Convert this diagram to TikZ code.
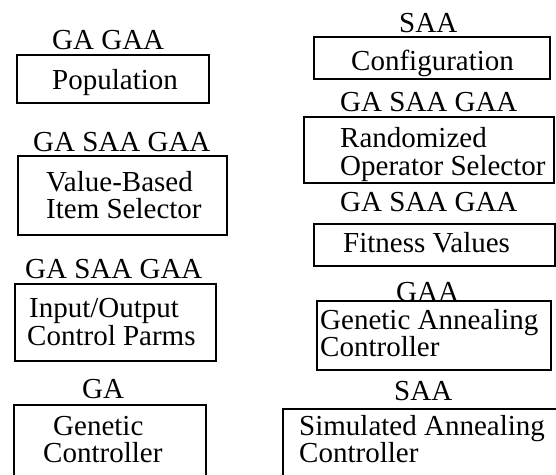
\documentclass[tikz,border=0pt]{standalone}
\usepackage{fontspec}
\setmainfont{Liberation Serif}
\begin{document}
\begin{tikzpicture}[x=1pt,y=-1pt,
  box/.style={draw, line width=1.8pt, rectangle, inner sep=0pt, anchor=north west},
  txt/.style={inner sep=0pt, anchor=base west, text height=19pt, text depth=5pt, font=\fontsize{29}{29}\selectfont}]
\clip (0,0) rectangle (556,474);
\fill[white] (0,0) rectangle (556,474);
% left column
\node[txt] (l1) at (52,49) {GA GAA};
\node[box, minimum width=192pt, minimum height=48pt] (pop) at (16,54) {};
\node[txt] (popt) at (52,89) {Population};
\node[txt] (l2) at (33,151) {GA SAA GAA};
\node[box, minimum width=209pt, minimum height=79pt] (vbis) at (17,155) {};
\node[txt] (vbis1) at (46,191) {Value-Based};
\node[txt] (vbis2) at (46,218) {Item Selector};
\node[txt] (l3) at (25,278) {GA SAA GAA};
\node[box, minimum width=201pt, minimum height=77pt] (iocp) at (14,283) {};
\node[txt] (iocp1) at (29,317) {Input/Output};
\node[txt] (iocp2) at (27,345) {Control Parms};
\node[txt] (l4) at (82,398) {GA};
\node[box, minimum width=192pt, minimum height=120pt] (gc) at (13,404) {};
\node[txt] (gc1) at (53,435) {Genetic};
\node[txt] (gc2) at (43,462) {Controller};
% right column
\node[txt] (r1) at (399,32) {SAA};
\node[box, minimum width=236pt, minimum height=42pt] (conf) at (313,36) {};
\node[txt] (conft) at (351,70) {Configuration};
\node[txt] (r2) at (340,111) {GA SAA GAA};
\node[box, minimum width=250pt, minimum height=66pt] (ros) at (303,116) {};
\node[txt] (ros1) at (340,147) {Randomized};
\node[txt] (ros2) at (340,175) {Operator Selector};
\node[txt] (r3) at (340,211) {GA SAA GAA};
\node[box, minimum width=241pt, minimum height=42pt] (fv) at (313,223) {};
\node[txt] (fvt) at (343,252) {Fitness Values};
\node[txt] (r4) at (396,301) {GAA};
\node[box, minimum width=234pt, minimum height=69pt] (gac) at (316,300) {};
\node[txt] (gac1) at (320,329) {Genetic Annealing};
\node[txt] (gac2) at (320,356) {Controller};
\node[txt] (r5) at (394,400) {SAA};
\node[box, minimum width=300pt, minimum height=120pt] (sac) at (282,408) {};
\node[txt] (sac1) at (299,435) {Simulated Annealing};
\node[txt] (sac2) at (299,462) {Controller};
\end{tikzpicture}
\end{document}
